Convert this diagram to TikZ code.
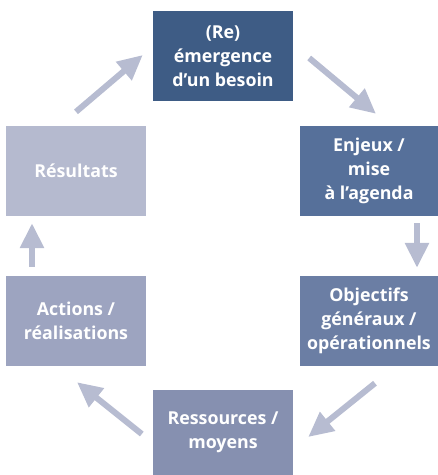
\documentclass[tikz,border=0pt]{standalone}
\usepackage{fontspec}
\setmainfont{Open Sans}
\usetikzlibrary{positioning,arrows.meta}
\definecolor{etapeA}{HTML}{3E5C85}
\definecolor{etapeB}{HTML}{56709A}
\definecolor{etapeC}{HTML}{6B7EA4}
\definecolor{etapeD}{HTML}{8690B0}
\definecolor{etapeE}{HTML}{9DA4C0}
\definecolor{etapeF}{HTML}{B5BACF}
\definecolor{fleche}{HTML}{B7BCD1}
\begin{document}
\begin{tikzpicture}[x=1pt,y=1pt,on grid,
    etape/.style={minimum width=140pt,minimum height=90pt,inner sep=0pt,align=center,
        text=white,font=\bfseries\fontsize{17.8}{24}\selectfont},
    boucle/.style={line width=6pt,draw=fleche,-{Triangle[length=25pt,width=23pt]}}]
            \useasboundingbox (0,0) rectangle (438,-475);
            \node[etape, fill=etapeA] (besoin) at (223,-56) {(Re)\\émergence\\d’un besoin};
            \node[etape, fill=etapeB, minimum width=138pt, below right=115pt and 146pt of besoin] (enjeux) {Enjeux /\\mise\\à l’agenda};
            \node[etape, fill=etapeC, minimum width=138pt, below=150pt of enjeux] (objectifs) {Objectifs\\généraux /\\opérationnels};
            \node[etape, fill=etapeD, minimum height=85pt, below left=111.5pt and 146pt of objectifs] (ressources) {Ressources /\\moyens};
            \node[etape, fill=etapeE, above left=111.5pt and 147pt of ressources] (actions) {Actions /\\réalisations};
            \node[etape, fill=etapeF, above=150pt of actions] (resultats) {Résultats};
            \draw[boucle] ([xshift=16pt,yshift=-2pt]besoin.east) -- ([xshift=7pt,yshift=12pt]enjeux.north);
            \draw[boucle] ([xshift=48pt,yshift=-7pt]enjeux.south) -- ([xshift=48pt,yshift=8pt]objectifs.north);
            \draw[boucle] ([xshift=6pt,yshift=-17pt]objectifs.south) -- ([xshift=15pt,yshift=-4.5pt]ressources.east);
            \draw[boucle] ([xshift=-11pt,yshift=-1.5pt]ressources.west) -- ([xshift=1pt,yshift=-16pt]actions.south);
            \draw[boucle] ([xshift=-44pt,yshift=9pt]actions.north) -- ([xshift=-44pt,yshift=-7pt]resultats.south);
            \draw[boucle] ([yshift=14pt]resultats.north) -- ([xshift=-10pt,yshift=1pt]besoin.west);
        \end{tikzpicture}
\end{document}
